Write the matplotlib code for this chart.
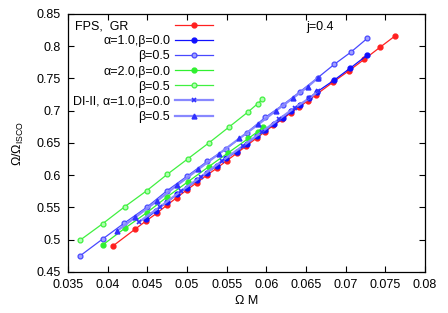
import matplotlib
matplotlib.use("Agg")
import matplotlib.pyplot as plt
from matplotlib.ticker import FuncFormatter, MultipleLocator

plt.rcParams['font.family'] = ['Liberation Sans', 'DejaVu Sans']
plt.rcParams['mathtext.fontset'] = 'custom'
plt.rcParams['mathtext.rm'] = 'Liberation Sans'

# FPS, GR
gr_x = [0.04071, 0.04349, 0.04483, 0.04618, 0.04744, 0.04870, 0.04996, 0.05122, 0.05248,
        0.05374, 0.05501, 0.05627, 0.05744, 0.05879, 0.05983, 0.06088, 0.06198, 0.06307,
        0.06416, 0.06521, 0.06622, 0.06836, 0.07042, 0.07235, 0.07433, 0.07622]
gr_y = [0.4908, 0.5167, 0.5291, 0.5410, 0.5534, 0.5652, 0.5771, 0.5884, 0.5999,
        0.6108, 0.6226, 0.6340, 0.6453, 0.6578, 0.6676, 0.6773, 0.6867, 0.6965,
        0.7063, 0.7151, 0.7244, 0.7440, 0.7621, 0.7798, 0.7984, 0.8159]

# alpha=1.0, beta=0.0
a1b0_x = [0.04483, 0.04609, 0.04744, 0.04878, 0.05004, 0.05130, 0.05256, 0.05374, 0.05492,
          0.05627, 0.05753, 0.05879, 0.05987, 0.06097, 0.06207, 0.06315, 0.06425, 0.06534,
          0.06635, 0.06857, 0.07055, 0.07273]
a1b0_y = [0.5326, 0.5450, 0.5581, 0.5705, 0.5807, 0.5926, 0.6040, 0.6148, 0.6263,
          0.6365, 0.6484, 0.6608, 0.6701, 0.6790, 0.6883, 0.6991, 0.7084, 0.7193,
          0.7290, 0.7477, 0.7658, 0.7864]

# alpha=1.0, beta=0.5
a1b5_x = [0.03655, 0.03937, 0.04206, 0.04492, 0.04744, 0.05004, 0.05256, 0.05492,
          0.05753, 0.05987, 0.06207, 0.06425, 0.06648, 0.06857, 0.07063, 0.07273]
a1b5_y = [0.4753, 0.5012, 0.5255, 0.5503, 0.5756, 0.5988, 0.6216, 0.6407,
          0.6660, 0.6898, 0.7089, 0.7296, 0.7512, 0.7720, 0.7906, 0.8123]

# alpha=2.0, beta=0.0
a2b0_x = [0.03937, 0.04215, 0.04492, 0.04752, 0.05013, 0.05274, 0.05521, 0.05773, 0.05891, 0.05954]
a2b0_y = [0.4919, 0.5177, 0.5419, 0.5667, 0.5900, 0.6133, 0.6350, 0.6570, 0.6675, 0.6743]

# alpha=2.0, beta=0.5
a2b5_x = [0.03655, 0.03937, 0.04215, 0.04492, 0.04752, 0.05013, 0.05274, 0.05530,
          0.05773, 0.05891, 0.05949]
a2b5_y = [0.4996, 0.5249, 0.5512, 0.5760, 0.6015, 0.6257, 0.6500, 0.6748,
          0.6985, 0.7110, 0.7178]

# DI-II, alpha=1.0, beta=0.0
di0_x = [0.0440, 0.0466, 0.0492, 0.0518, 0.0544, 0.0570, 0.0594, 0.0616, 0.0636, 0.0654, 0.0665]
di0_y = [0.528, 0.551, 0.575, 0.598, 0.622, 0.645, 0.667, 0.687, 0.705, 0.719, 0.730]

# DI-II, beta=0.5
di5_x = [0.04122, 0.0435, 0.0462, 0.0488, 0.0514, 0.0540, 0.0566, 0.0590, 0.0612, 0.0634, 0.0652, 0.0665]
di5_y = [0.514, 0.535, 0.560, 0.585, 0.609, 0.633, 0.657, 0.679, 0.700, 0.720, 0.737, 0.751]

fig = plt.figure(figsize=(4.48, 3.13), dpi=100)
ax = fig.add_axes([0.1518, 0.131, 0.7969, 0.8243])

fs = 9
ms = 3.5
ax.plot(gr_x, gr_y, color='#ff2020', lw=0.9, marker='o', ms=ms, label='FPS,  GR' + ' ' * 12)
ax.plot(a1b0_x, a1b0_y, color='#1010ff', lw=0.9, marker='o', ms=ms, label=r'α=1.0,β=0.0')
ax.plot(a1b5_x, a1b5_y, color='#4848ff', lw=0.9, marker='o', ms=ms, mfc='#a0a0ff',
        mew=0.9, label=r'β=0.5')
ax.plot(a2b0_x, a2b0_y, color='#30f030', lw=0.9, marker='o', ms=ms, label=r'α=2.0,β=0.0')
ax.plot(a2b5_x, a2b5_y, color='#40f040', lw=0.9, marker='o', ms=ms, mfc='#b0ffb0',
        mew=0.9, label=r'β=0.5')
ax.plot(di0_x, di0_y, color='#8888ff', lw=1.6, marker='x', ms=ms, mec='#3030ff',
        mew=1.2, label=r'DI-II, α=1.0,β=0.0')
ax.plot(di5_x, di5_y, color='#8888ff', lw=1.6, marker='^', ms=ms, mec='#3030ff',
        mfc='#3030ff', label=r'β=0.5')

ax.set_xlim(0.035, 0.08)
ax.set_ylim(0.45, 0.85)
ax.xaxis.set_major_locator(MultipleLocator(0.005))
ax.yaxis.set_major_locator(MultipleLocator(0.05))
fmt = FuncFormatter(lambda v, p: '%g' % round(v, 4))
ax.xaxis.set_major_formatter(fmt)
ax.yaxis.set_major_formatter(fmt)
ax.tick_params(direction='in', top=True, right=True, length=4, width=0.8,
               labelsize=fs, pad=5)
for s in ax.spines.values():
    s.set_linewidth(0.9)

ax.set_xlabel('Ω M', fontsize=fs, labelpad=3)
ax.set_ylabel(r'Ω/Ω$_{\mathrm{ISCO}}$', fontsize=fs, labelpad=8)
ax.text(0.667, 0.95, 'j=0.4', transform=ax.transAxes, fontsize=fs, va='center')

ax.legend(loc='upper left', bbox_to_anchor=(-0.003, 1.0), markerfirst=False,
          frameon=False, fontsize=fs, handlelength=3.0, handletextpad=0.4,
          labelspacing=0.25, borderaxespad=0.3, borderpad=0.2)

fig.savefig('out.png', dpi=100)
